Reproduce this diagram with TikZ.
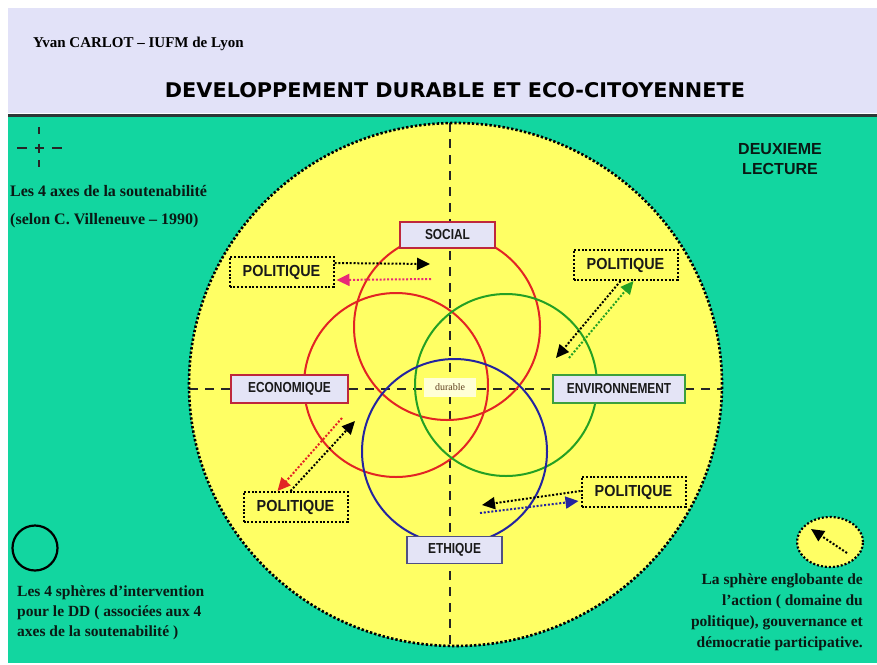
\documentclass[tikz,border=0pt]{standalone}
\usepackage{fontspec}
\usepackage{graphicx}
\setmainfont{Liberation Serif}
\newfontfamily\arialfont{Liberation Sans}
\newfontfamily\narrowfont[FakeStretch=0.82]{Liberation Sans}
\newfontfamily\polfont[FakeStretch=0.9]{Liberation Sans}
\newfontfamily\titlefont{DejaVu Sans}
\usetikzlibrary{arrows.meta,shapes.geometric}
\definecolor{hdr}{RGB}{226,226,248}
\definecolor{hdrline}{RGB}{45,55,55}
\definecolor{bggreen}{RGB}{18,214,160}
\definecolor{bgyellow}{RGB}{255,255,100}
\definecolor{boxfill}{RGB}{228,228,246}
\definecolor{cred}{RGB}{226,36,36}
\definecolor{cgreen}{RGB}{36,160,36}
\definecolor{cblue}{RGB}{36,36,160}
\definecolor{cpink}{RGB}{232,40,120}
\definecolor{socb}{RGB}{190,40,60}
\definecolor{envb}{RGB}{60,160,60}
\definecolor{ethb}{RGB}{80,80,130}
\definecolor{durfill}{RGB}{255,255,215}
\definecolor{txt}{RGB}{10,25,20}
\tikzset{
  axisline/.style={line width=2.4pt, dash pattern=on 9pt off 7pt, black!85},
  ring/.style={line width=2pt},
  lbl/.style={draw, line width=1.4pt, fill=boxfill, inner sep=0pt,
    font=\narrowfont\bfseries\fontsize{14.5}{14.5}\selectfont, text=black!90},
  polbox/.style={draw, line width=2pt, dash pattern=on 2pt off 1.8pt,
    minimum width=104pt, minimum height=30pt, inner sep=0pt,
    font=\polfont\bfseries\fontsize{16}{16}\selectfont, text=black!90},
  parrow/.style={line width=2pt, dash pattern=on 2pt off 1.8pt,
    -{Triangle[length=13pt,width=12pt]}},
  legtext/.style={font=\bfseries\fontsize{15.5}{20}\selectfont, text=txt, inner sep=0pt},
}
\begin{document}
\begin{tikzpicture}[x=1pt,y=-1pt]
\useasboundingbox (0,0) rectangle (877,664);
\fill[white] (0,0) rectangle (877,664);
% header
\fill[hdr] (8,8) rectangle (877,113);
\fill[bggreen] (8,117) rectangle (877,663);
\draw[line width=2.6pt, hdrline] (8,115.5) -- (877,115.5);
\node[anchor=west, inner sep=0pt, font=\bfseries\fontsize{15}{15}\selectfont] (author) at (33,44) {Yvan CARLOT -- IUFM de Lyon};
\node[inner sep=0pt, text=black] (title) at (455,90) {\resizebox{580pt}{15pt}{\titlefont\bfseries DEVELOPPEMENT DURABLE ET ECO-CITOYENNETE}};
% big sphere
\fill[bgyellow] (455.5,384.5) ellipse [x radius=266.5pt, y radius=261.5pt];
\coordinate (vtop) at (450,123);
\coordinate (vbot) at (450,646);
\coordinate (hleft) at (189,389);
\coordinate (hright) at (722,389);
\draw[axisline] (vtop) -- (vbot);
\draw[axisline] (hleft) -- (hright);
\draw[line width=2.6pt, dash pattern=on 2.4pt off 2pt, black] (455.5,384.5) ellipse [x radius=266.5pt, y radius=261.5pt];
% four spheres
\draw[ring, cred] (447,327) circle [radius=93pt];
\draw[ring, cred] (396,385) circle [radius=92pt];
\draw[ring, cgreen] (506,385) circle [radius=91pt];
\draw[ring, cblue] (454.5,451.5) circle [radius=92.5pt];
% labels
\node[lbl, draw=socb, minimum width=95pt, minimum height=26pt] (social) at (447.5,235) {SOCIAL};
\node[lbl, draw=socb, minimum width=117pt, minimum height=28pt] (eco) at (289.5,389) {ECONOMIQUE};
\node[lbl, draw=envb, minimum width=132pt, minimum height=28pt] (env) at (619,389) {ENVIRONNEMENT};
\node[lbl, draw=ethb, minimum width=95pt, minimum height=27pt] (eth) at (454.5,550) {ETHIQUE};
\node[fill=durfill, minimum width=52pt, minimum height=19pt, inner sep=0pt, text=black!50!brown,
  font=\fontsize{10}{10}\selectfont] (dur) at (450,387) {durable};
% politique boxes
\node[polbox] (pTL) at (281.5,272) {POLITIQUE};
\node[polbox] (pTR) at (625.5,265) {POLITIQUE};
\node[polbox] (pBL) at (295.5,507) {POLITIQUE};
\node[polbox] (pBR) at (633.5,492) {POLITIQUE};
% arrows top-left
\coordinate (tlA) at (430,264);
\coordinate (tlB) at (431,279);
\draw[parrow, black] ([yshift=9pt]pTL.east) -- (tlA);
\draw[parrow, cpink] (tlB) -- ([yshift=-8pt,xshift=2pt]pTL.east);
% arrows top-right
\coordinate (trA) at (556,358);
\coordinate (trB) at (569,358);
\draw[parrow, black] ([xshift=-5pt]pTR.south) -- (trA);
\draw[parrow, cgreen] (trB) -- ([xshift=8pt]pTR.south);
% arrows bottom-left
\coordinate (blA) at (342,418);
\coordinate (blB) at (355,421);
\draw[parrow, cred] (blA) -- ([xshift=-18pt]pBL.north);
\draw[parrow, black] ([xshift=-5pt]pBL.north) -- (blB);
% arrows bottom-right
\coordinate (brA) at (482,505);
\coordinate (brB) at (480,513);
\draw[parrow, black] ([yshift=1pt]pBR.west) -- (brA);
\draw[parrow, cblue] (brB) -- ([yshift=-9pt,xshift=-2pt]pBR.west);
% legend: axes
\draw[line width=2.2pt, black!85] (39,127) -- (39,134) (39,160) -- (39,167)
  (17,148) -- (27,148) (52,148) -- (62,148) (34.5,148) -- (43.5,148) (39,143.5) -- (39,152.5);
\node[legtext, anchor=west, font=\bfseries\fontsize{16}{16}\selectfont] (axes1) at (10,191) {Les 4 axes de la soutenabilité};
\node[legtext, anchor=west, font=\bfseries\fontsize{16}{16}\selectfont] (axes2) at (10,221) {(selon C. Villeneuve -- 1990)};
% legend: deuxieme lecture
\node[align=center, inner sep=0pt, text=txt, font=\arialfont\bfseries\fontsize{16}{20}\selectfont] (deux) at (780,159) {DEUXIEME\\LECTURE};
% legend: spheres
\node[circle, draw, line width=2.2pt, minimum size=45pt, inner sep=0pt] (sph) at (35,548) {};
\node[legtext, anchor=west, align=left] (sphtxt) at (17,613) {Les 4 sphères d’intervention\\pour le DD ( associées aux 4\\axes de la soutenabilité )};
% legend: englobante
\node[ellipse, draw, fill=bgyellow, line width=2.2pt, dash pattern=on 2pt off 2pt, minimum width=66pt, minimum height=50pt, inner sep=0pt] (glob) at (830,542) {};
\coordinate (gA) at (847,553);
\coordinate (gB) at (811,529);
\draw[parrow, black] (gA) -- (gB);
\node[legtext, anchor=east, align=right, font=\bfseries\fontsize{15.5}{21}\selectfont] (globtxt) at (863,612) {La sphère englobante de\\l’action ( domaine du\\politique), gouvernance et\\démocratie participative.};
\end{tikzpicture}
\end{document}
